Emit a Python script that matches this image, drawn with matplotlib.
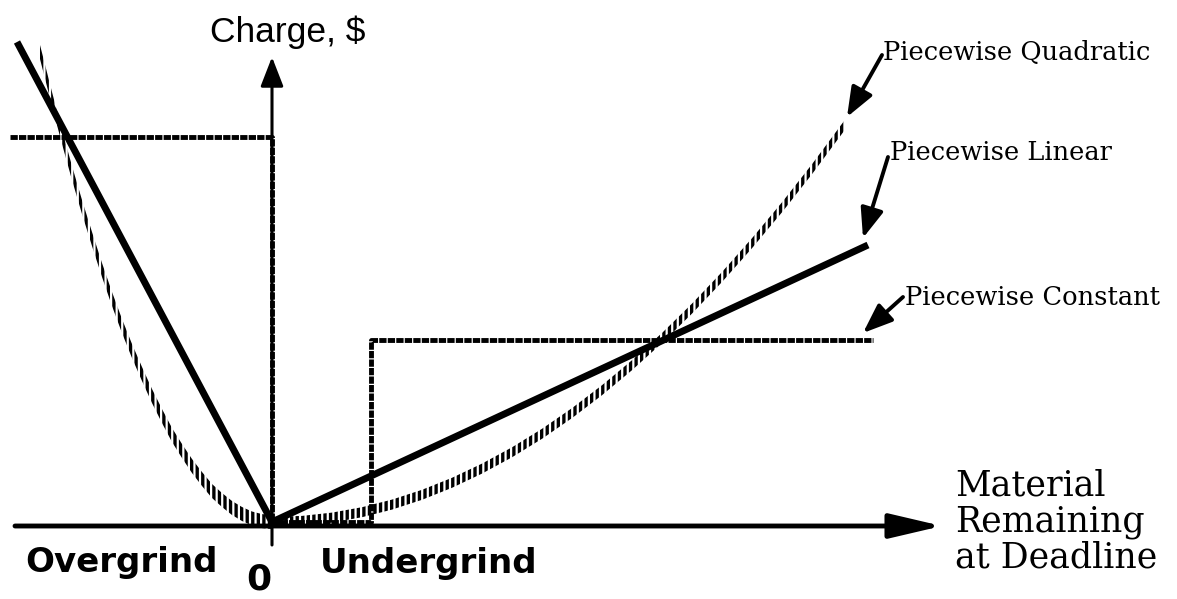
import matplotlib
matplotlib.use("Agg")
import matplotlib.pyplot as plt
import numpy as np

plt.rcParams['hatch.color'] = 'black'
plt.rcParams['hatch.linewidth'] = 2.4

# material remaining (negative = overgrind) and charge, arbitrary units
quad_left_x = [-23.2, -22, -21, -20, -19, -18, -17, -16, -15, -14, -13, -12,
               -11, -10, -9, -8, -7, -6, -5, -4, -3, -2, -1, 0]
quad_left_y = [47.0, 42.3, 38.5, 34.9, 31.5, 28.3, 25.2, 22.3, 19.6, 17.1, 14.8, 12.6,
               10.6, 8.7, 7.1, 5.6, 4.3, 3.1, 2.2, 1.4, 0.8, 0.35, 0.09, 0]
quad_right_x = [0, 3, 6, 9, 12, 15, 18, 21, 24, 27, 30, 33, 36, 39, 42, 45, 48, 51, 54, 57.3]
quad_right_y = [0, 0.11, 0.44, 0.98, 1.74, 2.72, 3.92, 5.34, 6.97, 8.82, 10.89, 13.18,
                15.68, 18.40, 21.34, 24.50, 27.88, 31.47, 35.28, 39.73]

lin_x = [-25.5, 0, 59.6]
lin_y = [48.0, 0, 27.7]

const_x = [-26.2, 0, 0, 9.9, 9.9, 60.1]
const_y = [38.5, 38.5, 0, 0, 18.2, 18.2]

fig = plt.figure(figsize=(11.77, 5.99), dpi=100)
ax = fig.add_axes([0, 0, 1, 1])
ax.set_xlim(-27.2, 90.5)
ax.set_ylim(-7.7, 52.2)
ax.axis('off')

# axes drawn as arrows
ax.annotate('', xy=(67.0, -0.4), xytext=(-25.7, -0.4),
            arrowprops=dict(arrowstyle='-|>,head_length=3.2,head_width=0.75',
                            lw=3.5, color='black', shrinkA=0, shrinkB=0))
ax.annotate('', xy=(0, 46.5), xytext=(0, -2.3),
            arrowprops=dict(arrowstyle='-|>,head_length=1.8,head_width=0.7',
                            lw=2.2, color='black', shrinkA=0, shrinkB=0))

# piecewise constant
ax.plot(const_x, const_y, color='black', lw=3.5, linestyle=(0, (1.5, 0.25)),
        solid_joinstyle='miter')

# piecewise quadratic - hatched band
for qx, qy, h in [(quad_left_x, quad_left_y, 0.7), (quad_right_x, quad_right_y, 0.5)]:
    qy = np.array(qy)
    ax.fill_between(qx, qy - h, qy + h, facecolor='none', edgecolor='black',
                    hatch='|||', linewidth=0)

# piecewise linear
ax.plot(lin_x, lin_y, color='black', lw=5, solid_capstyle='butt')

# labels
ax.text(1.6, 48.0, 'Charge, $', fontsize=25.5, family='Liberation Sans',
        ha='center', va='baseline')
ax.text(-24.7, -5.0, 'Overgrind', fontsize=24.5, family='DejaVu Sans',
        fontweight='bold', ha='left', va='baseline')
ax.text(4.8, -5.1, 'Undergrind', fontsize=24.5, family='DejaVu Sans',
        fontweight='bold', ha='left', va='baseline')
ax.text(-1.3, -6.7, '0', fontsize=26, family='DejaVu Sans',
        fontweight='bold', ha='center', va='baseline')
ax.text(68.3, -4.6, 'Material\nRemaining\nat Deadline', fontsize=25,
        family='DejaVu Serif', ha='left', va='baseline', linespacing=1.08)

# annotations
notes = [
    ('Piecewise Quadratic', (61.1, 46.2), (61.0, 46.7), (57.5, 40.5)),
    ('Piecewise Linear', (61.8, 36.2), (61.6, 36.5), (59.1, 28.4)),
    ('Piecewise Constant', (63.3, 21.7), (63.1, 22.5), (59.1, 18.9)),
]
for label, tpos, start, tip in notes:
    ax.text(tpos[0], tpos[1], label, fontsize=18.5, family='DejaVu Serif',
            ha='left', va='baseline')
    ax.annotate('', xy=tip, xytext=start,
                arrowprops=dict(arrowstyle='-|>,head_length=1.8,head_width=0.7',
                                lw=2.8, color='black', shrinkA=0, shrinkB=0))

fig.savefig('out.png', dpi=100)
